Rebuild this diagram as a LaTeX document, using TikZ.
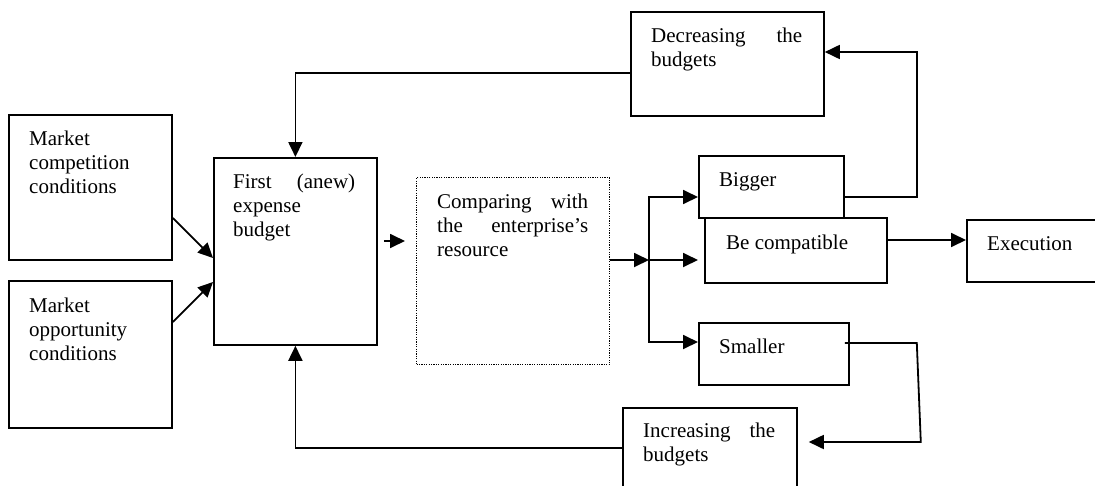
\documentclass[tikz,border=0pt]{standalone}
\usepackage{fontspec}
\setmainfont{Liberation Serif}
\usetikzlibrary{arrows.meta}
\hyphenpenalty=10000
\tolerance=10000

\begin{document}
\begin{tikzpicture}[x=1pt, y=-1pt,
    blk/.style={draw, line width=1.8pt, rectangle, inner sep=0pt, anchor=north west},
    txt/.style={inner sep=0pt, anchor=base west, align=justify, font=\fontsize{21}{24}\selectfont},
    arr/.style={-{Triangle[length=15pt,width=14pt]}, line width=1.8pt}]
    \useasboundingbox (0,0) rectangle (1095,485);

    % Boxes (positions in pixels, y going down)
    \node[blk, minimum width=163pt, minimum height=145pt] (mkcomp) at (8,114) {};
    \node[blk, minimum width=163pt, minimum height=147pt] (mkopp) at (8,280) {};
    \node[blk, minimum width=163pt, minimum height=187pt] (first) at (213,157) {};
    \node[blk, minimum width=193pt, minimum height=187pt, line width=1.2pt,
          dash pattern=on 1.2pt off 1.2pt] (cmp) at (416,177) {};
    \node[blk, minimum width=145pt, minimum height=62pt] (bigger) at (698,155) {};
    \node[blk, minimum width=182pt, minimum height=65pt] (compat) at (704,217) {};
    \node[blk, minimum width=140pt, minimum height=62pt] (exec) at (966,219) {};
    \node[blk, minimum width=150pt, minimum height=62pt] (smaller) at (698,322) {};
    \node[blk, minimum width=193pt, minimum height=104pt] (decr) at (630,11) {};
    \node[blk, minimum width=174pt, minimum height=90pt] (incr) at (622,407) {};

    % Texts
    \node[txt, text width=130pt] (mkcomp-t) at (29,145) {Market\linebreak competition\linebreak conditions};
    \node[txt, text width=130pt] (mkopp-t) at (29,312) {Market\linebreak opportunity\linebreak conditions};
    \node[txt, text width=122pt] (first-t) at (233,188) {First (anew)\linebreak expense\linebreak budget};
    \node[txt, text width=151pt] (cmp-t) at (437,208) {Comparing with\linebreak the enterprise's\linebreak resource};
    \node[txt] (bigger-t) at (719,186) {Bigger};
    \node[txt] (compat-t) at (726,249) {Be compatible};
    \node[txt] (exec-t) at (987,250) {Execution};
    \node[txt] (smaller-t) at (719,353) {Smaller};
    \node[txt, text width=151pt] (decr-t) at (651,42) {Decreasing the\linebreak budgets};
    \node[txt, text width=132pt] (incr-t) at (643,437) {Increasing the\linebreak budgets};

    % Inputs to the first budget
    \draw[arr] ([shift={(0,104)}]mkcomp.north east) -- ([shift={(0,101)}]first.north west);
    \draw[arr] ([shift={(0,42)}]mkopp.north east) -- ([shift={(0,125)}]first.north west);
    \draw[arr] ([shift={(6,84)}]first.north east) -- ([shift={(-11,64)}]cmp.north west);

    % Fork after the comparison
    \coordinate (fork) at (649,260);
    \draw[arr] (cmp.east |- fork) -- (fork);
    \draw[arr] (fork) |- ([shift={(0,42)}]bigger.north west);
    \draw[arr] (fork) -- (fork -| bigger.west);
    \draw[arr] (fork) |- ([shift={(0,20)}]smaller.north west);
    \draw[arr] ([shift={(0,23)}]compat.north east) -- ([shift={(0,21)}]exec.north west);

    % Feedback loops
    \draw[arr] ([shift={(0,42)}]bigger.north east) -- ++(72,0) |- ([shift={(0,41)}]decr.north east);
    \draw[arr] ([shift={(0,62)}]decr.north west) -| (first.north);
    \draw[arr] ([shift={(-5,21)}]smaller.north east) -- ++(72,0) -- ++(4,99)
        -- ([shift={(11,35)}]incr.north east);
    \draw[arr] ([shift={(0,41)}]incr.north west) -| (first.south);
\end{tikzpicture}
\end{document}
